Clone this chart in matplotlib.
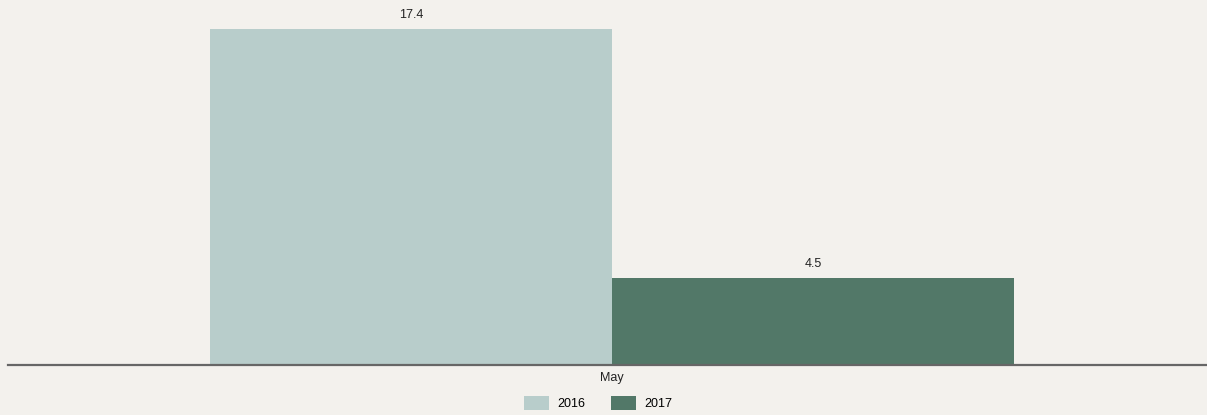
import matplotlib.pyplot as plt
from matplotlib.patches import Patch

categories = ["May"]
years = ["2016", "2017"]
values_2016 = [17.4]
values_2017 = [4.5]

BG = "#f3f1ed"
COLORS = {"2016": "#b8cdcb", "2017": "#527868"}

plt.rcParams.update({
    "font.family": ["Liberation Sans", "DejaVu Sans"],
    "font.size": 9,
})

fig = plt.figure(figsize=(12.07, 4.15), dpi=100, facecolor=BG)
ax = fig.add_axes([8 / 1207, 50 / 415, 1199 / 1207, 365 / 415])
ax.set_facecolor(BG)

width = 1.0
xs = list(range(len(categories)))
for offset, year, vals in [(-0.5, "2016", values_2016), (0.5, "2017", values_2017)]:
    bars = ax.bar([x + offset for x in xs], vals, width=width, color=COLORS[year],
                  edgecolor="none", label=year, zorder=2)
    for rect, v in zip(bars, vals):
        ax.annotate(f"{v}", (rect.get_x() + rect.get_width() / 2, v),
                    xytext=(0, 6), textcoords="offset points",
                    ha="center", va="bottom", fontsize=9, color="#222222")

ax.set_xlim((8 - 612) / 402, (1207 - 612) / 402)
ax.set_ylim(0, 17.4 * 365 / 336)
ax.set_xticks(xs)
ax.set_xticklabels(categories)
ax.set_yticks([])
ax.tick_params(axis="x", length=0, pad=5, labelsize=9, labelcolor="#222222")
for side in ["top", "right", "left"]:
    ax.spines[side].set_visible(False)
ax.spines["bottom"].set_color("#666666")
ax.spines["bottom"].set_linewidth(1.6)
ax.spines["bottom"].set_zorder(3)

handles = [Patch(facecolor=COLORS[y], edgecolor="none", label=y) for y in years]
fig.legend(handles=handles, loc="center", bbox_to_anchor=(598 / 1207, 1 - 403 / 415),
           ncol=2, frameon=False, handlelength=2.0, handleheight=1.44,
           handletextpad=0.7, columnspacing=2.0, fontsize=9)

fig.savefig("out.png", dpi=100, facecolor=BG)
